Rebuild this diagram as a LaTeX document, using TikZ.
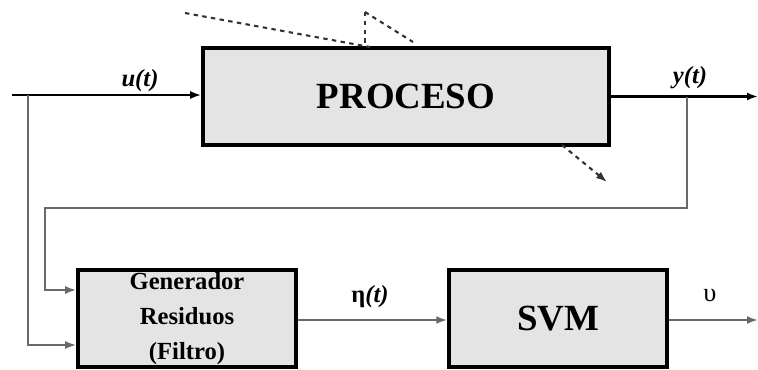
\documentclass[tikz,border=0pt]{standalone}
\usepackage{fontspec}
\setmainfont{Liberation Serif}
\usetikzlibrary{arrows.meta,positioning,calc}
\definecolor{boxgray}{RGB}{228,228,228}
\definecolor{wiregray}{RGB}{105,105,105}
\tikzset{
  >={Latex[length=2.2mm,width=1.6mm]},
  block/.style={draw=black,fill=boxgray,line width=2pt,minimum width=#1,
    minimum height=1.94cm,align=center,inner sep=0pt},
  block/.default=4.36cm,
  wire/.style={line width=1.3pt,draw=#1},
  wire/.default=black,
  sig/.style={font=\bfseries\itshape\fontsize{14}{16}\selectfont},
  dist/.style={dashed,dash pattern=on 2.5pt off 2.5pt,line width=1.2pt,draw=black!80},
}

\begin{document}
\begin{tikzpicture}
  \useasboundingbox (0,0) rectangle (15.16,-7.38);
  % blocks
  \node[block=8.12cm,font=\bfseries\fontsize{21}{24}\selectfont] (proc) at (8.12,-1.93) {PROCESO};
  \node[block,font=\bfseries\fontsize{14}{20}\selectfont] (gen) at (3.74,-6.37) {Generador\\Residuos\\(Filtro)};
  \node[block,font=\bfseries\fontsize{21}{24}\selectfont] (svm) at (11.16,-6.37) {SVM};
  % free ends
  \coordinate (in) at (0.24,-1.9);
  \coordinate (split) at (0.56,-1.9);
  \coordinate (out) at (15.16,-1.93);
  \coordinate (tap) at (13.74,-1.93);
  \coordinate (res) at (15.16,-6.4);
  % signals
  \draw[wire,->] (in) -- (proc.west |- in);
  \draw[wire,->] (proc.east) -- (out);
  \draw[wire=wiregray,->] (split) |- ($(gen.west)+(0,-0.53)$);
  \draw[wire=wiregray,->] (tap) |- (0.9,-4.16) |- ($(gen.west)+(0,0.57)$);
  \draw[wire=wiregray,->] (gen.east |- res) -- (svm.west |- res);
  \draw[wire=wiregray,->] (svm.east |- res) -- (res);
  % labels
  \node[sig] (ulab) at (2.8,-1.62) {u(t)};
  \node[sig] (ylab) at (13.8,-1.55) {y(t)};
  \node[font=\bfseries\fontsize{14}{16}\selectfont] (etalab) at (7.4,-5.94) {η\textit{(t)}};
  \node[font=\fontsize{15}{16}\selectfont] (upslab) at (14.2,-5.9) {υ};
  % disturbances
  \coordinate (d1) at (3.7,-0.26);
  \coordinate (d2) at (7.3,-0.24);
  \coordinate (d3) at (8.26,-0.84);
  \coordinate (d4) at (11.24,-2.9);
  \coordinate (d5) at (12.14,-3.64);
  \draw[dist] (d1) -- (7.4,-0.94);
  \draw[dist] (d2) -- (d2 |- proc.north);
  \draw[dist] (d2) -- (d3);
  \draw[dist,->] (d4) -- (d5);
\end{tikzpicture}
\end{document}
